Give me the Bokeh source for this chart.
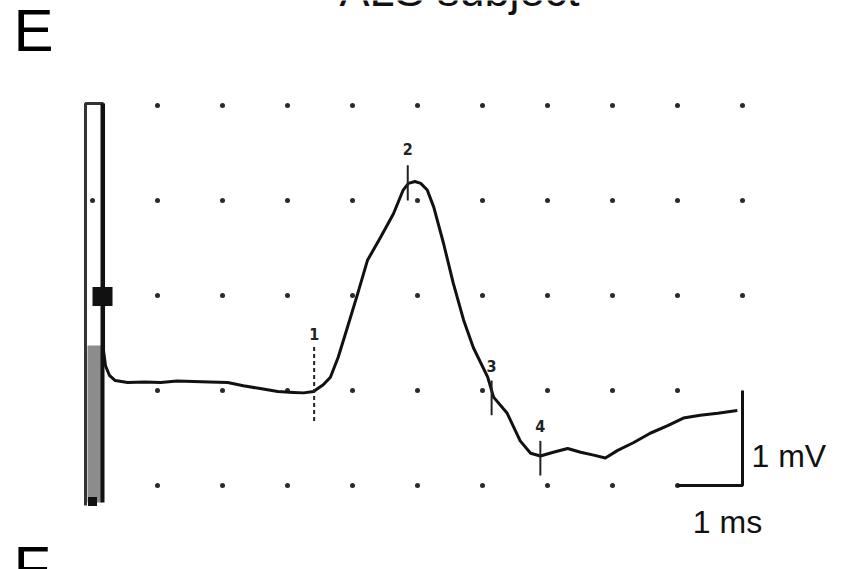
from bokeh.plotting import figure
from bokeh.models import Range1d
from bokeh.core.properties import value
from bokeh.embed import file_html
from bokeh.resources import INLINE

# ---- data (time in ms, amplitude in mV) ----
trace_ms = [0.17, 0.17, 0.20, 0.26, 0.35, 0.54, 0.80, 1.05, 1.30, 1.55, 1.80, 2.08, 2.32,
            2.58, 2.85, 3.09, 3.25, 3.40, 3.55, 3.66, 3.78, 3.92, 4.08, 4.23, 4.43, 4.63,
            4.78, 4.86, 4.96, 5.05, 5.15, 5.25, 5.40, 5.55, 5.71, 5.86, 6.08, 6.17, 6.38,
            6.58, 6.74, 6.89, 7.09, 7.31, 7.51, 7.71, 7.89, 8.08, 8.32, 8.58, 8.85, 9.09,
            9.35, 9.62, 9.92]
trace_mv = [4.02, 1.42, 1.26, 1.16, 1.105, 1.084, 1.09, 1.084, 1.10, 1.095, 1.09, 1.084, 1.05,
            1.02, 0.99, 0.98, 0.975, 0.99, 1.06, 1.14, 1.35, 1.66, 2.02, 2.37, 2.61, 2.86,
            3.11, 3.18, 3.20, 3.18, 3.11, 2.93, 2.55, 2.13, 1.74, 1.45, 1.14, 0.93, 0.76,
            0.47, 0.34, 0.31, 0.35, 0.39, 0.35, 0.32, 0.29, 0.37, 0.45, 0.55, 0.63, 0.71,
            0.74, 0.76, 0.79]

grid_ms = [1, 2, 3, 4, 5, 6, 7, 8, 9]
grid_mv = [0, 1, 2, 3, 4]
extra_dot_ms = [10, 10, 10, 0]
extra_dot_mv = [2, 3, 4, 3]

marker_labels = ["1", "2", "3", "4"]
marker_ms = [3.41, 4.85, 6.14, 6.89]
marker_tick_lo = [0.68, 3.00, 0.74, 0.105]
marker_tick_hi = [1.48, 3.37, 1.105, 0.47]
marker_label_mv = [1.60, 3.54, 1.255, 0.63]

scale_ms = [9, 10, 10]
scale_mv = [0, 0, 1]
scale_mv_label = "1 mV"
scale_ms_label = "1 ms"

panel_label = "E"
next_panel_label = "F"
title_text = "ALS subject"

# ---- pixel mapping of the scanned figure ----
PX_PER_MS = 65.0
PX_PER_MV = 95.0
X_ZERO = 92.0     # screen x of 0 ms
Y_ZERO = 485.0    # screen y of 0 mV
W, H = 844, 569

def tx(px):
    return (px - X_ZERO) / PX_PER_MS

def ty(py):
    return (Y_ZERO - py) / PX_PER_MV

p = figure(width=W, height=H, output_backend="svg", toolbar_location=None,
           x_range=Range1d(tx(0), tx(W)), y_range=Range1d(ty(H), ty(0)),
           min_border=0, outline_line_color=None, background_fill_color="white")
p.xaxis.visible = False
p.yaxis.visible = False
p.grid.visible = False
p.styles = {"position": "absolute", "left": "0px", "top": "0px"}

# dot grid
dx = [m for m in grid_ms for v in grid_mv] + extra_dot_ms
dy = [v for m in grid_ms for v in grid_mv] + extra_dot_mv
p.scatter(dx, dy, size=5, color="#2a2a2a", line_color=None)

# stimulus bar on the left
p.quad(left=[tx(87)], right=[tx(101)], bottom=[ty(502)], top=[ty(345)],
       fill_color="#8c8c8c", line_color=None)
p.line([tx(85), tx(85), tx(103)], [ty(505), ty(103), ty(103)], line_color="#333333", line_width=3)
p.line([tx(102), tx(102)], [ty(103), ty(502)], line_color="#111111", line_width=4)
p.rect([tx(102)], [ty(296)], width=20 / PX_PER_MS, height=19 / PX_PER_MV,
       fill_color="#111111", line_color=None)
p.rect([tx(92)], [ty(501)], width=9 / PX_PER_MS, height=9 / PX_PER_MV,
       fill_color="#111111", line_color=None)

# response trace
p.line(trace_ms, trace_mv, line_color="#111111", line_width=3, line_join="round")

# latency markers
for i, lab in enumerate(marker_labels):
    p.line([marker_ms[i], marker_ms[i]], [marker_tick_lo[i], marker_tick_hi[i]],
           line_color="#222222", line_width=2,
           line_dash="4 3" if lab == "1" else "solid")
p.text(marker_ms, marker_label_mv, text=marker_labels, text_font=value("DejaVu Sans Condensed"),
       text_font_style="bold", text_font_size="16px", text_align="center",
       text_baseline="middle", text_color="#222222")

# calibration bar
p.line(scale_ms, scale_mv, line_color="#111111", line_width=3)
p.text([tx(751)], [ty(455)], text=[scale_mv_label], text_font=value("Liberation Sans"),
       text_font_size="32px", text_align="left", text_baseline="middle", text_color="#111111")
p.text([tx(727)], [ty(521)], text=[scale_ms_label], text_font=value("Liberation Sans"),
       text_font_size="32px", text_align="center", text_baseline="middle",
       text_color="#111111")

# panel letters and title
p.text([tx(13)], [ty(30)], text=[panel_label], text_font=value("Liberation Sans"),
       text_font_size="60px", text_align="left", text_baseline="middle", text_color="#000000")
p.text([tx(13)], [ty(567)], text=[next_panel_label], text_font=value("Liberation Sans"),
       text_font_size="60px", text_align="left", text_baseline="middle", text_color="#000000")
p.text([tx(459)], [ty(3)], text=[title_text], text_font=value("Liberation Sans"),
       text_font_size="45px", text_align="center", text_baseline="middle", y_offset=-13,
       text_color="#111111")

open("out.html", "w").write(file_html(p, INLINE))
